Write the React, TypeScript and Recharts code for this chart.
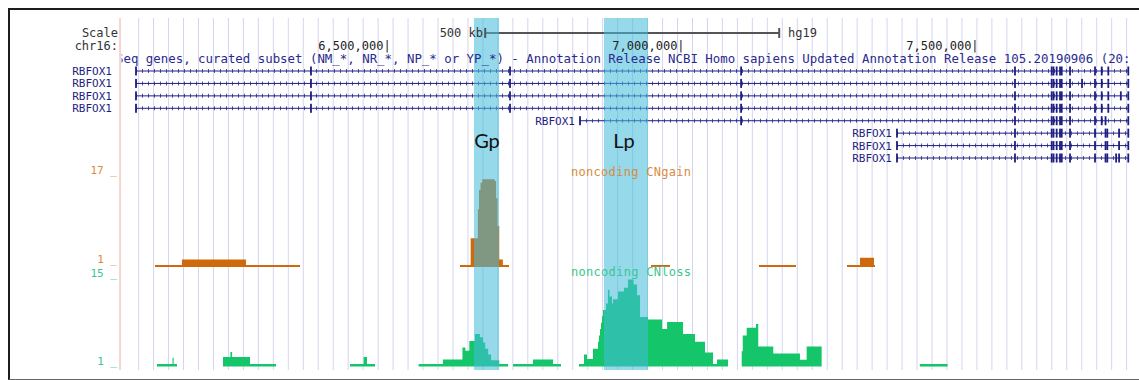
import React from "react";
import {
  ComposedChart,
  XAxis,
  YAxis,
  CartesianGrid,
  Area,
  Line,
  Scatter,
  ReferenceArea,
} from "recharts";

// all positions are chr16 (hg19) in kb
const positionTicks = [6500, 7000, 7500];
const scaleBarKb = [6667, 7167];
const gpRegion = [6647.9, 6690.5];
const lpRegion = [6869.0, 6943.9];

// noncoding CNgain: step runs of [kb, count], each run closes at gainEnds[i]
const gainSteps = [
  [[6105.4, 1], [6151.3, 2], [6260.2, 1]],
  [[6624.1, 1], [6642.3, 5.8], [6654.5, 11], [6656.5, 14.5], [6659, 15.8], [6662, 16.4], [6683, 16.1], [6685.5, 13], [6688, 8], [6690.9, 2], [6697, 1]],
  [[6949.0, 1]],
  [[7132.6, 1]],
  [[7282.3, 1], [7304.4, 2.3], [7328.2, 1]],
];
const gainEnds = [6352.0, 6707.5, 6981.3, 7195.5, 7329.9];

// noncoding CNloss
const lossSteps = [
  [[6108.8, 1], [6135.2, 2], [6137.1, 1]],
  [[6221.1, 2.1], [6233.7, 2.9], [6236.6, 2.1], [6267.0, 1]],
  [[6437.1, 1], [6460.2, 2.1], [6466.0, 1]],
  [[6553.7, 1], [6595.1, 1.7], [6628.3, 3.6], [6633.3, 3.1], [6640, 4.6], [6649.6, 5.7], [6658, 5.2], [6663.2, 4.4], [6667, 3.4], [6672, 2.5], [6677, 1.6], [6690.9, 1]],
  [[6714.3, 1], [6748.3, 1.7], [6782.3, 1]],
  [[6826.5, 1], [6835.0, 2.5], [6840.1, 1.8], [6850.3, 3.4], [6858.8, 4.5], [6860.5, 5.5], [6862.2, 6.5], [6863.9, 7.5], [6865.7, 8.5], [6867.4, 9.5], [6872.5, 10.5], [6875.8, 12.7], [6878.4, 11.6], [6882.7, 10.5], [6884.4, 11.2], [6892.9, 12.4], [6903.1, 13.0], [6909.9, 14.3], [6919.3, 13.5], [6925.2, 11.8], [6930.3, 8.4], [6943.9, 8.0], [6967.8, 6.5], [6976.3, 7.6], [7003.4, 5.7], [7023.8, 4.5], [7040.8, 2.8], [7054.4, 1], [7061.2, 1.7]],
  [[7103.2, 3], [7105.0, 5.5], [7111.7, 6.7], [7127.5, 7.3], [7131.4, 3.75], [7156.9, 2.65], [7202.3, 1.66], [7213.7, 3.75]],
  [[7406.1, 1]],
];
const lossEnds = [6142.8, 6311.2, 6479.6, 6706.0, 6795.9, 7080.0, 7239.2, 7453.4];

// RefSeq RBFOX1 transcripts, one per row
const geneName = "RBFOX1";
const geneStart = [6073.1, 6073.1, 6073.1, 6073.1, 6828.2, 7367.3, 7367.3, 7367.3];
const geneEnd = [7760.7, 7760.7, 7760.7, 7760.7, 7760.7, 7760.7, 7760.7, 7760.7];
const exonsLong = [6370.7, 6709.2, 7102.2, 7568.0, 7630.4, 7633.5, 7638.9, 7644.6, 7647.5, 7661.6, 7704.1, 7715.5, 7726.7];
const exonsMid = [7102.2, 7568.0, 7630.4, 7633.5, 7638.9, 7644.6, 7647.5, 7661.6, 7704.1, 7715.5, 7722.0];
const exonsShort = [7568.0, 7630.4, 7633.5, 7638.9, 7644.6, 7647.5, 7661.6, 7704.1, 7722.0, 7725.0, 7745.0];
const geneExons = [
  exonsLong,
  [...exonsLong, 7682.0],
  [...exonsLong, 7748.0],
  exonsLong,
  exonsMid,
  exonsShort,
  exonsShort,
  [...exonsShort, 7740.0],
];

const MONO = "'DejaVu Sans Mono', monospace";
const NAVY = "#1e1e82";
const ORANGE = "#cf6a0c";
const GREEN = "#14c56a";
const ORANGE_TXT = "#d98b40";
const GREEN_TXT = "#3ac68c";
const HIGHLIGHT = "rgb(69,188,218)";

const runData = (steps: number[][], end: number) => [
  ...steps.map(([x, v]) => ({ x, v })),
  { x: end, v: steps[steps.length - 1][1] },
];

const PosTick = (p: any) => (
  <text x={p.x + 3.6} y={50} textAnchor="end" fontFamily={MONO} fontSize={12} fill="#222">
    {(p.payload.value * 1000).toLocaleString("en-US")}|
  </text>
);

// UCSC style "17 _" labels, the underscore sits on the value
const makeValTick = (color: string, dy: number) => (p: any) => (
  <text x={117} y={p.y + dy} textAnchor="end" fontFamily={MONO} fontSize={11} fill={color}>
    {p.payload.value} _
  </text>
);

const GeneTick = (p: any) => (
  <text x={112} y={p.y + 4} textAnchor="end" fontFamily={MONO} fontSize={11} fill={NAVY}>
    {geneName}
  </text>
);

const guideLines = ({ offset }: any) => {
  const out: number[] = [];
  for (let px = offset.left + 16.6; px < offset.left + offset.width; px += 14.97) out.push(px);
  return out;
};

export default function App() {
  const rows = geneStart.map((s, r) => r);
  const exonPoints = rows.flatMap((r) => [
    { x: geneStart[r], row: r },
    { x: geneEnd[r], row: r },
    ...geneExons[r].map((x) => ({ x, row: r })),
  ]);
  const inlineLabels = rows.filter((r) => r >= 4).map((r) => ({ x: geneStart[r], row: r }));

  return (
    <div style={{ position: "absolute", left: 0, top: 0, width: 1139, height: 380, background: "#fff", overflow: "hidden" }}>
      <ComposedChart width={1139} height={380} margin={{ top: 17, right: 9, bottom: 10, left: 119 }}>
        <CartesianGrid
          yAxisId="gene"
          horizontal={false}
          stroke="#d5d5f0"
          verticalCoordinatesGenerator={guideLines}
        />
        <XAxis
          dataKey="x"
          type="number"
          orientation="top"
          domain={[6049.3, 7763.6]}
          allowDataOverflow
          height={1}
          ticks={positionTicks}
          interval={0}
          tick={<PosTick />}
          axisLine={false}
          tickLine={false}
        />
        <YAxis
          yAxisId="loss"
          type="number"
          domain={[0.056, 55.43]}
          allowDataOverflow
          width={1}
          ticks={[1, 15]}
          interval={0}
          tickSize={0}
          tickMargin={5}
          tick={makeValTick(GREEN_TXT, 1.5)}
          axisLine={{ stroke: "#f2aaa4" }}
          tickLine={false}
        />
        <YAxis
          yAxisId="gain"
          type="number"
          domain={[-17.88, 45.4]}
          allowDataOverflow
          width={1}
          ticks={[1, 17]}
          interval={0}
          tickSize={0}
          tickMargin={5}
          tick={makeValTick(ORANGE_TXT, -2)}
          axisLine={false}
          tickLine={false}
        />
        <YAxis
          yAxisId="gene"
          dataKey="row"
          type="number"
          reversed
          domain={[-4.264, 24.055]}
          allowDataOverflow
          width={1}
          ticks={[0, 1, 2, 3]}
          interval={0}
          tickSize={0}
          tickMargin={0}
          tick={<GeneTick />}
          axisLine={false}
          tickLine={false}
        />

        {/* scale bar */}
        <Line
          yAxisId="gene"
          data={scaleBarKb.map((x) => ({ x, row: -3.06 }))}
          dataKey="row"
          stroke="#555"
          strokeWidth={2}
          isAnimationActive={false}
          dot={(p: any) => <rect key={p.index} x={p.cx - 1} y={p.cy - 5} width={2} height={10} fill="#555" />}
          activeDot={false}
        />

        {/* gene models */}
        {rows.map((r) => (
          <Line
            key={"g" + r}
            yAxisId="gene"
            data={[{ x: geneStart[r], row: r }, { x: geneEnd[r], row: r }]}
            dataKey="row"
            stroke={NAVY}
            strokeWidth={1}
            dot={false}
            activeDot={false}
            isAnimationActive={false}
          />
        ))}
        {rows.map((r) => (
          <Line
            key={"h" + r}
            yAxisId="gene"
            data={[{ x: geneStart[r], row: r }, { x: geneEnd[r], row: r }]}
            dataKey="row"
            stroke={NAVY}
            strokeOpacity={0.75}
            strokeWidth={4}
            strokeDasharray="1 5"
            dot={false}
            activeDot={false}
            isAnimationActive={false}
          />
        ))}
        <Scatter
          yAxisId="gene"
          data={exonPoints}
          dataKey="row"
          isAnimationActive={false}
          shape={(p: any) => <rect x={p.cx - 0.9} y={p.cy - 4.5} width={1.8} height={9} fill={NAVY} />}
        />
        <Scatter
          yAxisId="gene"
          data={inlineLabels}
          dataKey="row"
          isAnimationActive={false}
          shape={(p: any) => (
            <text x={p.cx - 5} y={p.cy + 4} textAnchor="end" fontFamily={MONO} fontSize={11} fill={NAVY}>
              {geneName}
            </text>
          )}
        />

        {/* noncoding CNgain */}
        {gainSteps.map((steps, i) => (
          <Area
            key={"gain" + i}
            yAxisId="gain"
            data={runData(steps, gainEnds[i])}
            dataKey="v"
            type="stepAfter"
            baseValue={0.65}
            fill={ORANGE}
            fillOpacity={1}
            stroke="none"
            dot={false}
            activeDot={false}
            isAnimationActive={false}
          />
        ))}

        {/* noncoding CNloss */}
        {lossSteps.map((steps, i) => (
          <Area
            key={"loss" + i}
            yAxisId="loss"
            data={runData(steps, lossEnds[i])}
            dataKey="v"
            type="stepAfter"
            baseValue={0.6}
            fill={GREEN}
            fillOpacity={1}
            stroke="none"
            dot={false}
            activeDot={false}
            isAnimationActive={false}
          />
        ))}

        <ReferenceArea yAxisId="gene" x1={gpRegion[0]} x2={gpRegion[1]} fill={HIGHLIGHT} fillOpacity={0.57} stroke="none" zIndex={450} />
        <ReferenceArea yAxisId="gene" x1={lpRegion[0]} x2={lpRegion[1]} fill={HIGHLIGHT} fillOpacity={0.57} stroke="none" zIndex={450} />
      </ComposedChart>

      <svg width={1139} height={380} style={{ position: "absolute", left: 0, top: 0, pointerEvents: "none" }}>
        <defs>
          <clipPath id="trackArea">
            <rect x={121.5} y={0} width={1020} height={380} />
          </clipPath>
        </defs>
        <g fontFamily={MONO} fontSize={12} fill="#333">
          <text x={118} y={37} textAnchor="end">Scale</text>
          <text x={118} y={50} textAnchor="end">chr16:</text>
          <text x={483} y={37} textAnchor="end">500 kb</text>
          <text x={788} y={37}>hg19</text>
        </g>
        <text x={116} y={63} fontFamily={MONO} fontSize={12.4} fill="#2a2a8e" clipPath="url(#trackArea)">
          Seq genes, curated subset (NM_*, NR_*, NP_* or YP_*) - Annotation Release NCBI Homo sapiens Updated Annotation Release 105.20190906 (20:
        </text>
        <text x={487} y={148} textAnchor="middle" fontFamily="Lato, 'Open Sans', sans-serif" fontSize={20} fill="#111">Gp</text>
        <text x={624} y={148} textAnchor="middle" fontFamily="Lato, 'Open Sans', sans-serif" fontSize={20} fill="#111">Lp</text>
        <text x={571} y={176} fontFamily={MONO} fontSize={12} letterSpacing={0.3} fill={ORANGE_TXT}>noncoding CNgain</text>
        <text x={571} y={276} fontFamily={MONO} fontSize={12} letterSpacing={0.3} fill={GREEN_TXT}>noncoding CNloss</text>
      </svg>

      <div style={{ position: "absolute", left: 8, top: 8, width: 1140, height: 369, borderTop: "2px solid #1c1c1c", borderLeft: "2px solid #1c1c1c", borderBottom: "1px solid #666" }} />
    </div>
  );
}
